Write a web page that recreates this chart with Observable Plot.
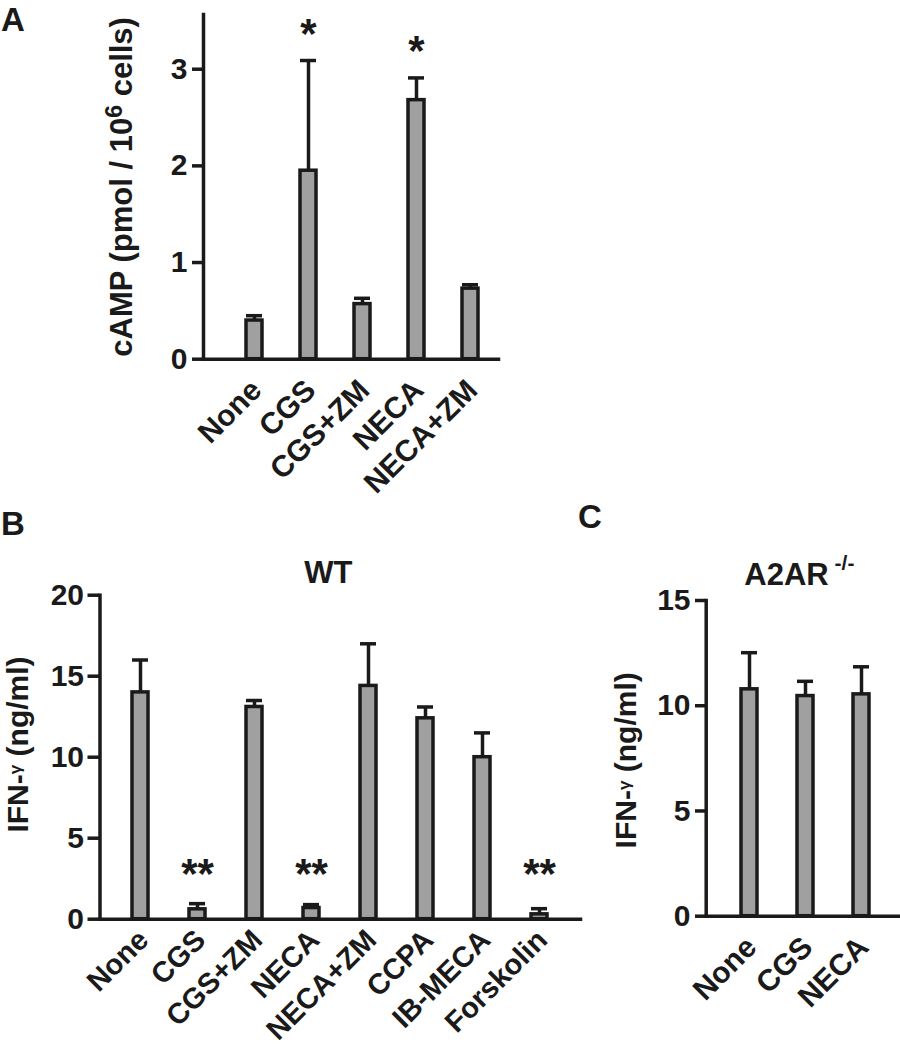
<!DOCTYPE html>
<html>
<head>
<meta charset="utf-8">
<script src="https://cdn.jsdelivr.net/npm/d3@7"></script>
<script src="https://cdn.jsdelivr.net/npm/@observablehq/plot@0.6"></script>
<style>
  html, body { margin: 0; padding: 0; background: #ffffff; }
  #page { position: relative; width: 900px; height: 1050px; overflow: hidden;
          font-family: "Liberation Sans", Arial, Helvetica, sans-serif; font-weight: bold; color: #1a1a1a; }
  .panel { position: absolute; }
  .letter { position: absolute; font-size: 33px; line-height: 33px; font-weight: bold; }
</style>
</head>
<body>
<div id="page">
  <div class="letter" style="left:1px;top:3px">A</div>
  <div class="letter" style="left:1px;top:507px">B</div>
  <div class="letter" style="left:578px;top:500px">C</div>
  <div class="panel" id="panelA" style="left:0px;top:0px"></div>
  <div class="panel" id="panelB" style="left:0px;top:500px"></div>
  <div class="panel" id="panelC" style="left:600px;top:500px"></div>
</div>
<script>
// ---------- Data ----------
// Panel A: cAMP (pmol / 10^6 cells)
const aCategories = ["None", "CGS", "CGS+ZM", "NECA", "NECA+ZM"];
const aMeans      = [0.40, 1.95, 0.57, 2.68, 0.73];
const aErrTops    = [0.45, 3.09, 0.63, 2.91, 0.77];   // mean + error
const aStars      = ["", "*", "", "*", ""];
const aTicks      = [0, 1, 2, 3];

// Panel B: WT, IFN-γ (ng/ml)
const bCategories = ["None", "CGS", "CGS+ZM", "NECA", "NECA+ZM", "CCPA", "IB-MECA", "Forskolin"];
const bMeans      = [14.0, 0.61, 13.1, 0.69, 14.4, 12.4, 10.0, 0.30];
const bErrTops    = [16.0, 0.96, 13.5, 0.90, 17.0, 13.1, 11.5, 0.65];
const bStars      = ["", "**", "", "**", "", "", "", "**"];
const bStarLevel  = 3.2;
const bTicks      = [0, 5, 10, 15, 20];

// Panel C: A2AR -/-, IFN-γ (ng/ml)
const cCategories = ["None", "CGS", "NECA"];
const cMeans      = [10.78, 10.46, 10.54];
const cErrTops    = [12.52, 11.16, 11.85];
const cTicks      = [0, 5, 10, 15];

const aLabel = "cAMP (pmol / 106 cells)";
const ifnLabel = "IFN-γ (ng/ml)";
const bTitle = "WT";
const cTitle = "A2AR -/-";

// ---------- Styling ----------
const INK = "#1a1a1a";
const BAR = "#a0a0a0";
const FONT = "'Liberation Sans', Arial, Helvetica, sans-serif";
const FS = 30;

function makePanel(o) {
  const rows = o.cats.map((c, i) => ({cat: c, mean: o.means[i], err: o.errs[i], star: o.stars ? o.stars[i] : ""}));
  const marks = [
    Plot.barY(rows, {x: "cat", y: "mean", fill: BAR, stroke: INK, strokeWidth: 3.5}),
    Plot.ruleX(rows, {x: "cat", y1: "mean", y2: "err", stroke: INK, strokeWidth: 3.5}),
    Plot.tickY(rows, {x: "cat", y: "err", stroke: INK, strokeWidth: 3.5}),
    Plot.frame({anchor: "left", stroke: INK, strokeWidth: 3.5, strokeLinecap: "square"}),
    Plot.frame({anchor: "bottom", stroke: INK, strokeWidth: 3.5, strokeLinecap: "square"}),
    Plot.axisY({ticks: o.yTicks, tickSize: o.tickSize, tickPadding: o.tickPad, tickFormat: d => String(d),
                stroke: INK, strokeWidth: 3.5, fill: INK, fontSize: FS, fontWeight: "bold", label: null}),
    Plot.axisX({tickRotate: -45, tickSize: 0, tickPadding: o.xPad, dx: o.xDx, fill: INK,
                fontSize: o.xFs || FS, fontWeight: "bold", label: null}),
    Plot.text([o.yLabel], {frameAnchor: "left", textAnchor: "middle", rotate: -90, dx: o.labelDx, dy: o.labelDy,
                           text: d => d, fontSize: o.labelFs || FS, fontWeight: "bold", fill: INK})
  ];
  if (o.stars) {
    marks.push(Plot.text(rows.filter(d => d.star), {x: "cat", y: o.starY, text: "star", dy: o.starDy,
                           fontSize: 42, fontWeight: "bold", fill: INK}));
  }
  if (o.title) {
    marks.push(Plot.text([o.title], {frameAnchor: "top", textAnchor: "middle", lineAnchor: "bottom", dx: o.titleDx, dy: o.titleDy,
                           text: d => d, fontSize: 31, fontWeight: "bold", fill: INK}));
  }
  return Plot.plot({
    width: o.width, height: o.height,
    marginLeft: o.ml, marginRight: o.mr, marginTop: o.mt, marginBottom: o.mb,
    style: {fontFamily: FONT, fontWeight: "bold", fontSize: FS + "px", color: INK, background: "transparent", overflow: "visible"},
    x: {domain: o.cats, range: o.xRange, paddingInner: o.pad, paddingOuter: o.pad / 2},
    y: {domain: o.yDomain},
    marks
  });
}

function richText(svg, match, parts) {
  const ns = "http://www.w3.org/2000/svg";
  svg.querySelectorAll("text").forEach(t => {
    if (t.textContent === match) {
      while (t.firstChild) t.removeChild(t.firstChild);
      parts.forEach(p => {
        const ts = document.createElementNS(ns, "tspan");
        ts.textContent = p.text;
        if (p.size) ts.setAttribute("font-size", p.size);
        if (p.dy != null) ts.setAttribute("dy", p.dy);
        t.appendChild(ts);
      });
    }
  });
}

// Panel A
const svgA = makePanel({
  cats: aCategories, means: aMeans, errs: aErrTops, stars: aStars, starY: "err", starDy: -26,
  yDomain: [0, 3.566], yTicks: aTicks, tickSize: 11, tickPad: 5,
  width: 520, height: 500, ml: 203, mr: 22, mt: 14, mb: 141.3,
  xRange: [227, 498], pad: 0.695, xPad: 26, xDx: 2,
  yLabel: aLabel, labelDx: -81, labelDy: 0, labelFs: 31
});
richText(svgA, aLabel, [{text: "cAMP (pmol / 10"}, {text: "6", size: "23px", dy: "-10"}, {text: " cells)", dy: "10"}]);
document.getElementById("panelA").appendChild(svgA);

// Panel B
const svgB = makePanel({
  cats: bCategories, means: bMeans, errs: bErrTops, stars: bStars, starY: () => bStarLevel, starDy: 7,
  yDomain: [0, 20], yTicks: bTicks, tickSize: 12, tickPad: 4,
  width: 600, height: 550, ml: 99.5, mr: 20, mt: 94.7, mb: 131.3,
  xRange: [108.1, 570.9], pad: 0.715, xPad: 16, xDx: 3, xFs: 29,
  yLabel: ifnLabel, labelDx: -82, labelDy: -12.7,
  title: bTitle, titleDx: -12, titleDy: -12
});
richText(svgB, ifnLabel, [{text: "IFN-"}, {text: "γ", size: "17px", dy: "-6.7"}, {text: " (ng/ml)", dy: "6.7"}]);
document.getElementById("panelB").appendChild(svgB);

// Panel C
const svgC = makePanel({
  cats: cCategories, means: cMeans, errs: cErrTops, stars: null,
  yDomain: [0, 15], yTicks: cTicks, tickSize: 10.7, tickPad: 5,
  width: 300, height: 550, ml: 105.7, mr: 2, mt: 100, mb: 134.3,
  xRange: [120, 290], pad: 0.71, xPad: 26, xDx: 2,
  yLabel: ifnLabel, labelDx: -79.5, labelDy: 2,
  title: cTitle, titleDx: -3, titleDy: -16
});
richText(svgC, ifnLabel, [{text: "IFN-"}, {text: "γ", size: "17px", dy: "-6.7"}, {text: " (ng/ml)", dy: "6.7"}]);
richText(svgC, cTitle, [{text: "A2AR"}, {text: " -/-", size: "21px", dy: "-15"}]);
document.getElementById("panelC").appendChild(svgC);
</script>
</body>
</html>
